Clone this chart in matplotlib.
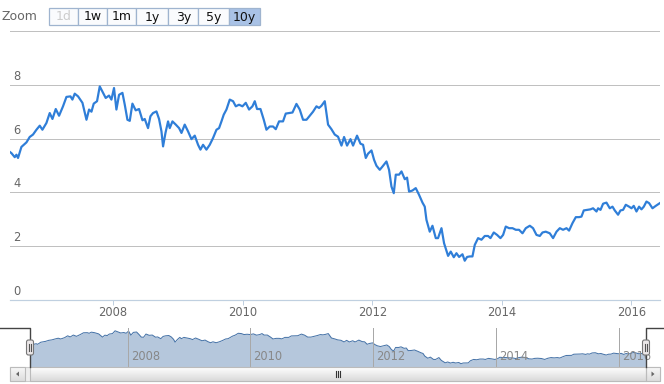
import matplotlib
matplotlib.use('Agg')
import matplotlib.pyplot as plt
import numpy as np
from matplotlib.patches import Rectangle, FancyBboxPatch, Polygon

# ---------------- data ----------------
dates = [2006.410, 2006.432, 2006.483, 2006.509, 2006.534, 2006.586, 2006.664, 2006.714, 2006.765, 2006.818,
         2006.869, 2006.910, 2006.972, 2007.023, 2007.065, 2007.116, 2007.167, 2007.228, 2007.281, 2007.343,
         2007.373, 2007.409, 2007.460, 2007.528, 2007.590, 2007.630, 2007.667, 2007.702, 2007.753, 2007.795,
         2007.846, 2007.887, 2007.938, 2007.975, 2008.015, 2008.052, 2008.093, 2008.145, 2008.181, 2008.222,
         2008.258, 2008.299, 2008.350, 2008.401, 2008.454, 2008.489, 2008.540, 2008.577, 2008.617, 2008.670,
         2008.710, 2008.747, 2008.772, 2008.809, 2008.849, 2008.875, 2008.917, 2008.968, 2009.019, 2009.056,
         2009.106, 2009.157, 2009.210, 2009.261, 2009.312, 2009.349, 2009.389, 2009.441, 2009.492, 2009.543,
         2009.596, 2009.636, 2009.673, 2009.708, 2009.750, 2009.801, 2009.852, 2009.894, 2009.944, 2009.997,
         2010.048, 2010.099, 2010.151, 2010.187, 2010.222, 2010.275, 2010.326, 2010.367, 2010.418, 2010.469,
         2010.511, 2010.562, 2010.623, 2010.665, 2010.716, 2010.769, 2010.830, 2010.881, 2010.932, 2010.985,
         2011.035, 2011.086, 2011.139, 2011.179, 2011.216, 2011.267, 2011.318, 2011.370, 2011.421, 2011.472,
         2011.525, 2011.565, 2011.611, 2011.664, 2011.704, 2011.765, 2011.818, 2011.858, 2011.900, 2011.935,
         2011.988, 2012.028, 2012.065, 2012.116, 2012.157, 2012.219, 2012.259, 2012.296, 2012.332, 2012.363,
         2012.414, 2012.451, 2012.502, 2012.537, 2012.568, 2012.620, 2012.671, 2012.722, 2012.775, 2012.810,
         2012.836, 2012.887, 2012.929, 2012.980, 2013.015, 2013.068, 2013.108, 2013.170, 2013.211, 2013.258,
         2013.299, 2013.340, 2013.392, 2013.427, 2013.463, 2013.505, 2013.546, 2013.582, 2013.633, 2013.685,
         2013.736, 2013.787, 2013.824, 2013.875, 2013.926, 2013.978, 2014.019, 2014.060, 2014.111, 2014.164,
         2014.215, 2014.265, 2014.318, 2014.369, 2014.431, 2014.481, 2014.534, 2014.585, 2014.627, 2014.677,
         2014.739, 2014.790, 2014.843, 2014.894, 2014.944, 2014.997, 2015.037, 2015.090, 2015.141, 2015.191,
         2015.228, 2015.264, 2015.315, 2015.367, 2015.407, 2015.460, 2015.485, 2015.522, 2015.562, 2015.614,
         2015.665, 2015.707, 2015.742, 2015.793, 2015.830, 2015.870, 2015.912, 2015.963, 2016.000, 2016.035,
         2016.077, 2016.117, 2016.154, 2016.190, 2016.231, 2016.272, 2016.324, 2016.375, 2016.437]

values = [5.50, 5.46, 5.31, 5.40, 5.28, 5.69, 5.86, 6.06, 6.15, 6.33,
          6.48, 6.33, 6.58, 6.95, 6.73, 7.10, 6.85, 7.20, 7.55, 7.57,
          7.45, 7.67, 7.57, 7.33, 6.70, 7.08, 7.00, 7.30, 7.39, 7.94,
          7.70, 7.51, 7.60, 7.45, 7.88, 7.08, 7.63, 7.70, 7.26, 6.70,
          6.66, 7.30, 7.05, 7.10, 6.68, 6.73, 6.39, 6.83, 6.95, 7.01,
          6.73, 6.27, 5.71, 6.21, 6.64, 6.39, 6.64, 6.52, 6.39, 6.21,
          6.52, 6.27, 5.98, 6.11, 5.77, 5.59, 5.77, 5.59, 5.77, 6.02,
          6.33, 6.39, 6.64, 6.89, 7.08, 7.45, 7.39, 7.20, 7.26, 7.20,
          7.33, 7.08, 7.20, 7.39, 7.10, 7.10, 6.70, 6.33, 6.45, 6.45,
          6.35, 6.64, 6.64, 6.93, 6.95, 6.97, 7.29, 7.08, 6.70, 6.70,
          6.85, 7.00, 7.20, 7.14, 7.22, 7.39, 6.52, 6.35, 6.15, 6.07,
          5.74, 6.06, 5.74, 5.98, 5.74, 6.11, 5.81, 5.77, 5.28, 5.44,
          5.56, 5.21, 4.99, 4.84, 4.96, 5.15, 4.84, 4.22, 3.97, 4.66,
          4.66, 4.78, 4.49, 4.55, 4.03, 4.07, 4.16, 3.91, 3.62, 3.47,
          2.98, 2.54, 2.76, 2.30, 2.30, 2.67, 2.11, 1.64, 1.80, 1.59,
          1.74, 1.60, 1.70, 1.46, 1.60, 1.62, 1.62, 2.05, 2.30, 2.24,
          2.38, 2.38, 2.30, 2.51, 2.42, 2.30, 2.42, 2.73, 2.67, 2.67,
          2.61, 2.61, 2.48, 2.67, 2.76, 2.67, 2.42, 2.38, 2.51, 2.54,
          2.48, 2.30, 2.54, 2.67, 2.61, 2.67, 2.58, 2.86, 3.08, 3.08,
          3.10, 3.33, 3.35, 3.37, 3.41, 3.29, 3.41, 3.35, 3.58, 3.62,
          3.41, 3.47, 3.33, 3.17, 3.33, 3.35, 3.54, 3.47, 3.41, 3.50,
          3.29, 3.47, 3.37, 3.47, 3.66, 3.60, 3.41, 3.50, 3.60]

year_ticks = [2008, 2010, 2012, 2014, 2016]
year_labels = ['2008', '2010', '2012', '2014', '2016']
y_label_ticks = [0, 2, 4, 6, 8]
y_grid = [2, 4, 6, 8, 10]
zoom_buttons = ['1d', '1w', '1m', '1y', '3y', '5y', '10y']
selected_button = '10y'
disabled_buttons = ['1d']
x_range = (2006.41, 2016.44)

FONT = 'DejaVu Sans'
plt.rcParams['font.family'] = [FONT]

# ---------------- layout ----------------
W, H = 664, 384
PX = 72 / 100  # points per pixel at dpi 100
fig = plt.figure(figsize=(W / 100, H / 100), dpi=100)
fig.patch.set_facecolor('white')


def fr(x0, y0, x1, y1):
    return [x0 / W, 1 - y1 / H, (x1 - x0) / W, (y1 - y0) / H]


# main chart
ax = fig.add_axes(fr(10, 31, 660, 300))
ax.set_xlim(*x_range)
ax.set_ylim(0, 10)
for s in ax.spines.values():
    s.set_visible(False)
for g in y_grid:
    ax.axhline(g, color='#C0C0C0', lw=1 * PX, zorder=1)
ax.axhline(0, color='#C0D0E0', lw=1.2 * PX, zorder=1, clip_on=False)
ax.plot(dates, values, color='#2f7ed8', lw=2.2 * PX, solid_joinstyle='round', zorder=3)
ax.set_yticks([])
ax.set_xticks(year_ticks)
ax.set_xticklabels(year_labels)
ax.tick_params(axis='x', length=5 * PX, width=1 * PX, color='#C0D0E0', pad=1.0,
               labelcolor='#666666', labelsize=8.3)
for v in y_label_ticks:
    ax.annotate(str(v), xy=(0, v), xycoords=('axes fraction', 'data'),
                xytext=(3, 2), textcoords='offset pixels', ha='left', va='bottom',
                color='#666666', fontsize=8.3)

# navigator
nav = fig.add_axes(fr(30, 327.5, 646, 367))
vmin, vmax = min(values), max(values)
pad = 0.1 * (vmax - vmin)
nav.set_xlim(*x_range)
nav.set_ylim(vmin - pad, vmax + pad)
nav.fill_between(dates, values, vmin - pad, color='#B5C7DC', lw=0, zorder=1)
nav.plot(dates, values, color='#4572A7', lw=1 * PX, zorder=2)
for yr, lab in zip(year_ticks, year_labels):
    nav.axvline(yr, color='#A8A8A8', lw=1 * PX, zorder=3)
    nav.annotate(lab, xy=(yr, 0), xycoords=('data', 'axes fraction'),
                 xytext=(3, 4), textcoords='offset pixels', ha='left', va='bottom',
                 color='#888888', fontsize=8.3, zorder=4)
nav.set_xticks([])
nav.set_yticks([])
for s in nav.spines.values():
    s.set_visible(False)

# UI overlay (range selector, outline, handles, scrollbar)
ui = fig.add_axes([0, 0, 1, 1], zorder=5)
ui.set_xlim(0, W)
ui.set_ylim(H, 0)
ui.axis('off')
ui.patch.set_alpha(0)

ui.text(2, 17, 'Zoom', ha='left', va='center', color='#666666', fontsize=9)
edges = [49.3, 78.3, 106.7, 136, 168.3, 198.3, 229.3, 260]
for i, lab in enumerate(zoom_buttons):
    x0, x1 = edges[i], edges[i + 1]
    sel = lab == selected_button
    fc = '#A9C2E6' if sel else '#FAFBFD'
    ui.add_patch(Rectangle((x0, 8.3), x1 - x0, 16.7, fc=fc, ec='#9FB4CF', lw=0.9))
    col = '#CCCCCC' if lab in disabled_buttons else '#111111'
    ui.text((x0 + x1) / 2, 17, lab, ha='center', va='center', color=col, fontsize=9)

# scrollbar
ui.add_patch(Rectangle((10, 367), 650, 14, fc='#EEEEEE', ec='#CCCCCC', lw=0.8))
grad = np.linspace(0, 1, 50).reshape(-1, 1)
ui.imshow(grad, extent=(30, 646, 381, 367), cmap=matplotlib.colors.LinearSegmentedColormap.from_list(
    'g', ['#FFFFFF', '#D9D9D9']), aspect='auto', zorder=2)
ui.add_patch(Rectangle((30, 367), 616, 14, fc='none', ec='#BBBBBB', lw=0.8, zorder=3))
for gx in (336, 338, 340):
    ui.plot([gx, gx], [371, 377], color='#333333', lw=0.8, zorder=4)
for bx, bw, d in ((10, 15, -1), (646, 14, 1)):
    ui.imshow(grad, extent=(bx, bx + bw, 381, 367), cmap=matplotlib.colors.LinearSegmentedColormap.from_list(
        'g2', ['#F8F8F8', '#DDDDDD']), aspect='auto', zorder=2)
    ui.add_patch(Rectangle((bx, 367), bw, 14, fc='none', ec='#BBBBBB', lw=0.8, zorder=3))
    cx = bx + bw / 2
    ui.add_patch(Polygon([(cx + 1.5 * d, 374), (cx - 1.5 * d, 371.5), (cx - 1.5 * d, 376.5)],
                         closed=True, fc='#666666', ec='none', zorder=4))

# navigator outline
ui.plot([0, 30, 30], [327.5, 327.5, 367], color='#444444', lw=1, zorder=4)
ui.plot([646, 646, 664], [367, 327.5, 327.5], color='#444444', lw=1, zorder=4)

# handles
for cx in (30, 646):
    ui.add_patch(FancyBboxPatch((cx - 3.5, 340), 7, 15, boxstyle='round,pad=0,rounding_size=2',
                                fc='#EBE7E8', ec='#777777', lw=0.8, zorder=5))
    for gx in (cx - 1, cx + 1):
        ui.plot([gx, gx], [344, 351], color='#555555', lw=0.8, zorder=6)

ui.set_xlim(0, W)
ui.set_ylim(H, 0)

fig.savefig('out.png', dpi=100, facecolor='white')
